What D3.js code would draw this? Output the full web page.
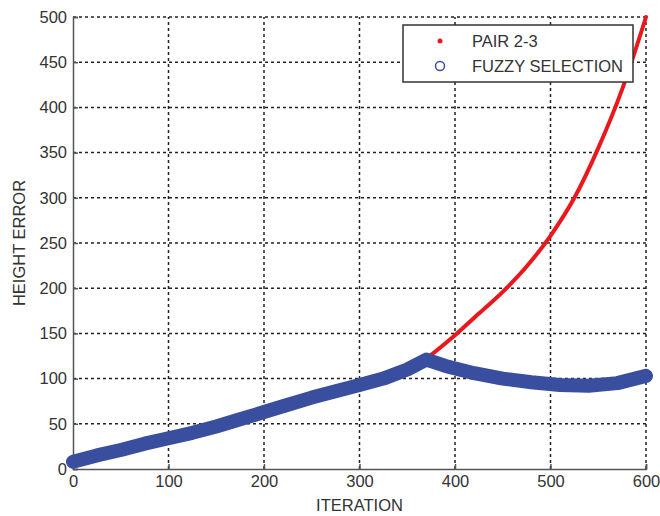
<!DOCTYPE html>
<html>
<head>
<meta charset="utf-8">
<script src="https://cdn.jsdelivr.net/npm/d3@7"></script>
<style>
  body { margin: 0; background: #fff; }
  text { font-family: "Liberation Sans", Arial, sans-serif; fill: #333; }
</style>
</head>
<body>
<div id="chart"></div>
<script>
// data
const fuzzyIter = [0, 25, 50, 75, 100, 125, 150, 175, 200, 225, 250, 275, 300, 325, 350, 370, 390, 420, 450, 480, 510, 540, 570, 600];
const fuzzyErr  = [8, 15, 21, 28, 34, 40, 47, 55, 63, 71, 79, 86, 93, 100, 110, 121, 114, 106, 100, 96, 93, 92, 95, 103];
const pairIter = [370, 400, 425, 450, 475, 500, 525, 550, 575, 600];
const pairErr  = [122, 148, 172, 196, 224, 258, 300, 355, 420, 500];
const xTicks = [0, 100, 200, 300, 400, 500, 600];
const yTicks = [0, 50, 100, 150, 200, 250, 300, 350, 400, 450, 500];
const legendLabels = ["PAIR 2-3", "FUZZY SELECTION"];

const width = 660, height = 516;
const margin = { left: 73, right: 14, top: 17, bottom: 47 };
const fontSize = "16.5px";

const svg = d3.select("#chart").append("svg")
  .attr("width", width)
  .attr("height", height);

const x = d3.scaleLinear().domain([0, 600]).range([margin.left, width - margin.right]);
const y = d3.scaleLinear().domain([0, 500]).range([height - margin.bottom, margin.top]);

// grid
svg.append("g").selectAll("line").data(xTicks.slice(1)).enter().append("line")
  .attr("x1", d => x(d)).attr("x2", d => x(d))
  .attr("y1", y(0)).attr("y2", y(500))
  .attr("stroke", "#222").attr("stroke-width", 1.5).attr("stroke-dasharray", "3,3");
svg.append("g").selectAll("line").data(yTicks.slice(1)).enter().append("line")
  .attr("x1", x(0)).attr("x2", x(600))
  .attr("y1", d => y(d)).attr("y2", d => y(d))
  .attr("stroke", "#222").attr("stroke-width", 1.5).attr("stroke-dasharray", "3,3");

// axes
const xAxis = svg.append("g")
  .attr("transform", `translate(0,${y(0)})`)
  .call(d3.axisBottom(x).tickValues(xTicks).tickSize(-5).tickPadding(6));
const yAxis = svg.append("g")
  .attr("transform", `translate(${x(0)},0)`)
  .call(d3.axisLeft(y).tickValues(yTicks).tickSize(-5).tickPadding(6));
[xAxis, yAxis].forEach(g => {
  g.select(".domain").attr("stroke", "#555").attr("stroke-width", 1.5);
  g.selectAll(".tick line").attr("stroke", "#555").attr("stroke-width", 1.5);
  g.selectAll(".tick text").style("font-size", fontSize).style("fill", "#333")
    .style("font-family", "'Liberation Sans', Arial, sans-serif");
});

// series
const smooth = d3.line().x(d => x(d[0])).y(d => y(d[1])).curve(d3.curveMonotoneX);
const straight = d3.line().x(d => x(d[0])).y(d => y(d[1]));
const fuzzy = fuzzyIter.map((v, i) => [v, fuzzyErr[i]]);
const pair = pairIter.map((v, i) => [v, pairErr[i]]);

svg.append("path").datum(pair)
  .attr("d", smooth).attr("fill", "none")
  .attr("stroke", "#e8181c").attr("stroke-width", 4).attr("stroke-linecap", "round");

svg.append("path").datum(fuzzy)
  .attr("d", straight).attr("fill", "none")
  .attr("stroke", "#3a4e9f").attr("stroke-width", 14)
  .attr("stroke-linecap", "round").attr("stroke-linejoin", "round");

// axis titles
svg.append("text").attr("x", x(300)).attr("y", 511)
  .attr("text-anchor", "middle").style("font-size", fontSize).text("ITERATION");
svg.append("text").attr("transform", `translate(25,${y(250)}) rotate(-90)`)
  .attr("text-anchor", "middle").style("font-size", fontSize).text("HEIGHT ERROR");

// legend
const lg = svg.append("g");
lg.append("rect").attr("x", 403).attr("y", 25).attr("width", 230).attr("height", 57)
  .attr("fill", "#fff").attr("stroke", "#333").attr("stroke-width", 1.5);
lg.append("circle").attr("cx", 440).attr("cy", 41).attr("r", 2.5).attr("fill", "#e8181c");
lg.append("circle").attr("cx", 440).attr("cy", 66).attr("r", 4.5)
  .attr("fill", "none").attr("stroke", "#3a4e9f").attr("stroke-width", 1.5);
lg.selectAll("text.lab").data(legendLabels).enter().append("text")
  .attr("class", "lab")
  .attr("x", 472).attr("y", (d, i) => 47 + i * 25)
  .style("font-size", fontSize).text(d => d);
</script>
</body>
</html>
